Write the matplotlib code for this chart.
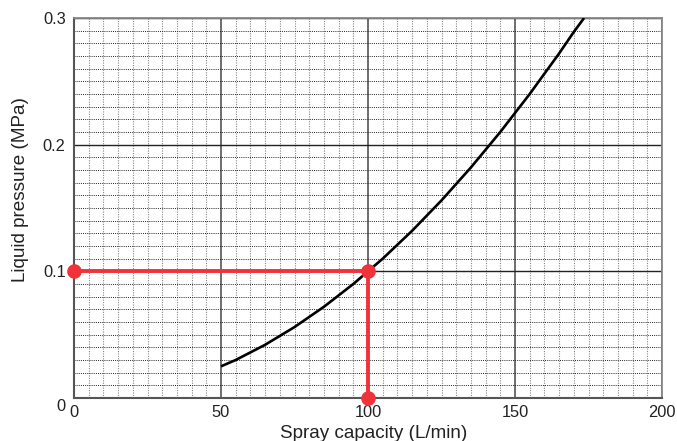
import matplotlib
matplotlib.use("Agg")
import matplotlib.pyplot as plt
import matplotlib.transforms as mtransforms
from matplotlib.ticker import MultipleLocator

plt.rcParams['font.family'] = ['Liberation Sans', 'DejaVu Sans']

# Curve data
capacity = [50, 55, 60, 65, 70, 75, 80, 85, 90, 95, 100, 105, 110, 115, 120,
            125, 130, 135, 140, 145, 150, 155, 160, 165, 170, 173.5]
pressure = [0.025, 0.030, 0.036, 0.042, 0.049, 0.056, 0.064, 0.072, 0.081,
            0.090, 0.100, 0.110, 0.121, 0.132, 0.144, 0.156, 0.169, 0.182,
            0.196, 0.210, 0.225, 0.240, 0.256, 0.272, 0.289, 0.300]

# Red guide (reading example)
guide_x = [0, 100, 100]
guide_y = [0.1, 0.1, 0.0]

x_ticks = [0, 50, 100, 150, 200]
x_labels = ['0', '50', '100', '150', '200']
y_ticks = [0, 0.1, 0.2, 0.3]
y_labels = ['0', '0.1', '0.2', '0.3']

fig = plt.figure(figsize=(6.77, 4.41), dpi=100)
ax = fig.add_axes([74/677, 1-398/441, 588/677, 380/441])
ax.set_xlim(0, 200)
ax.set_ylim(0, 0.3)

ax.xaxis.set_minor_locator(MultipleLocator(5))
ax.yaxis.set_minor_locator(MultipleLocator(0.01))
ax.set_xticks(x_ticks)
ax.set_xticklabels(x_labels)
ax.set_yticks(y_ticks)
ax.set_yticklabels(y_labels)

# minor grid
ax.grid(which='minor', axis='x', color='#888888', linestyle=(0, (1.0, 1.2)), linewidth=0.8)
ax.grid(which='minor', axis='y', color='#222222', linestyle=(0, (1.0, 1.2)), linewidth=0.7)
# major grid
ax.grid(which='major', axis='x', color='#6e6e6e', linestyle='-', linewidth=1.4)
ax.grid(which='major', axis='y', color='#222222', linestyle='-', linewidth=1.0)
ax.set_axisbelow(True)

for s in ['left', 'bottom']:
    ax.spines[s].set_color('#555555')
    ax.spines[s].set_linewidth(1.5)
for s in ['top', 'right']:
    ax.spines[s].set_color('#888888')
    ax.spines[s].set_linewidth(1.3)

ax.tick_params(which='both', length=0)
ax.tick_params(axis='x', pad=5, labelsize=11.8, colors='#222222')
ax.tick_params(axis='y', pad=6, labelsize=11.8, colors='#222222')

# shift y "0" label down a bit
for lbl in ax.get_yticklabels():
    if lbl.get_text() == '0':
        lbl.set_transform(lbl.get_transform() +
                          mtransforms.ScaledTranslation(0, -7/100, fig.dpi_scale_trans))

ax.plot(capacity, pressure, color='black', linewidth=1.9, solid_capstyle='butt', zorder=3)
ax.plot(guide_x, guide_y, color='#f0323a', linewidth=2.8, zorder=4, clip_on=False)
ax.plot(guide_x, guide_y, linestyle='none', marker='o', markersize=9.5,
        color='#f0323a', zorder=5, clip_on=False)

ax.set_xlabel('Spray capacity (L/min)', fontsize=13.6, color='#222222')
ax.set_ylabel('Liquid pressure (MPa)', fontsize=13.6, color='#222222')

# label positions
ax.xaxis.set_label_coords((374-74)/588, -(433-398)/380)
ax.xaxis.label.set_va('center')
ax.yaxis.set_label_coords(-(74-21)/588, (398-190)/380)
ax.yaxis.label.set_va('center')

fig.savefig('out.png', dpi=100)
